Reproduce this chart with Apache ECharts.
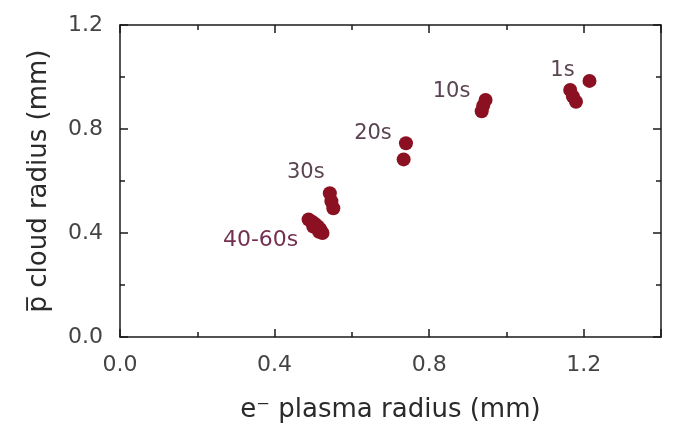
<!DOCTYPE html>
<html>
<head>
<meta charset="utf-8">
<script src="https://cdn.jsdelivr.net/npm/echarts@6/dist/echarts.min.js"></script>
<style>
  html, body { margin: 0; padding: 0; background: #fff; }
  #chart { width: 677px; height: 439px; }
</style>
</head>
<body>
<div id="chart"></div>
<script>
// Antiproton cloud radius vs electron plasma radius, grouped by cooling time
const groupNames = ['1s', '10s', '20s', '30s', '40-60s'];

const plasmaRadius1s = [1.215, 1.165, 1.172, 1.180];
const cloudRadius1s  = [0.985, 0.950, 0.925, 0.905];

const plasmaRadius10s = [0.946, 0.940, 0.936];
const cloudRadius10s  = [0.912, 0.890, 0.868];

const plasmaRadius20s = [0.740, 0.734];
const cloudRadius20s  = [0.745, 0.683];

const plasmaRadius30s = [0.543, 0.547, 0.552];
const cloudRadius30s  = [0.553, 0.522, 0.495];

const plasmaRadius40s = [0.488, 0.497, 0.505, 0.512, 0.518, 0.524, 0.500, 0.515];
const cloudRadius40s  = [0.452, 0.443, 0.435, 0.425, 0.415, 0.400, 0.425, 0.405];

const xTicks = [0.0, 0.4, 0.8, 1.2];
const yTicks = [0.0, 0.4, 0.8, 1.2];

const groups = [
  [plasmaRadius1s, cloudRadius1s],
  [plasmaRadius10s, cloudRadius10s],
  [plasmaRadius20s, cloudRadius20s],
  [plasmaRadius30s, cloudRadius30s],
  [plasmaRadius40s, cloudRadius40s]
];

// label placement relative to the first point of each group (pixels)
const labelOffsets = [[-27, -10], [-34, -8], [-33, -10], [-24, -21], [-48, 21]];
const labelColors = ['#5a4452', '#5a4452', '#5a4452', '#5a4452', '#743050'];

const FONT = 'DejaVu Sans';
const DOT = '#8b1022';

const series = groups.map((g, gi) => ({
  type: 'scatter',
  name: groupNames[gi],
  xAxisIndex: 0,
  yAxisIndex: 0,
  symbol: 'circle',
  symbolSize: 14,
  itemStyle: { color: DOT, opacity: 1 },
  emphasis: { disabled: true },
  z: 3,
  data: g[0].map((x, i) => {
    const item = { value: [x, g[1][i]] };
    if (i === 0) {
      item.label = {
        show: true,
        formatter: groupNames[gi],
        position: 'inside',
        offset: labelOffsets[gi],
        color: labelColors[gi],
        fontFamily: FONT,
        fontSize: gi === 4 ? 22 : 21
      };
    }
    return item;
  })
}));

const tickLabelStyle = {
  fontFamily: FONT,
  fontSize: 22,
  color: '#444444'
};

const chart = echarts.init(document.getElementById('chart'), null, { renderer: 'canvas' });

chart.setOption({
  animation: false,
  backgroundColor: '#ffffff',
  grid: { left: 120, right: 16, top: 25, bottom: 102, containLabel: false },
  xAxis: [
    {
      type: 'value',
      min: 0, max: 1.4, interval: 0.4,
      position: 'bottom',
      name: 'e\u207B plasma radius (mm)',
      nameLocation: 'middle',
      nameGap: 60,
      nameTextStyle: { fontFamily: FONT, fontSize: 26, color: '#2a2a2a' },
      axisLine: { show: true, onZero: false, lineStyle: { color: '#1a1a1a', width: 1.5 } },
      axisTick: { show: true, inside: true, length: 8, lineStyle: { color: '#1a1a1a', width: 1.5 } },
      minorTick: { show: true, splitNumber: 2, length: 5, lineStyle: { color: '#1a1a1a', width: 1.5 } },
      splitLine: { show: false },
      axisLabel: {
        ...tickLabelStyle,
        margin: 17,
        showMaxLabel: false,
        formatter: v => xTicks.some(t => Math.abs(t - v) < 1e-9) ? v.toFixed(1) : ''
      }
    },
    {
      type: 'value',
      min: 0, max: 1.4, interval: 0.4,
      position: 'top',
      axisLine: { show: true, onZero: false, lineStyle: { color: '#1a1a1a', width: 1.5 } },
      axisTick: { show: true, inside: true, length: 8, lineStyle: { color: '#1a1a1a', width: 1.5 } },
      minorTick: { show: true, splitNumber: 2, length: 5, lineStyle: { color: '#1a1a1a', width: 1.5 } },
      splitLine: { show: false },
      axisLabel: { show: false }
    }
  ],
  yAxis: [
    {
      type: 'value',
      min: 0, max: 1.2, interval: 0.4,
      position: 'left',
      name: 'p\u0305 cloud radius (mm)',
      nameLocation: 'middle',
      nameGap: 68,
      nameTextStyle: { fontFamily: FONT, fontSize: 26, color: '#2a2a2a' },
      axisLine: { show: true, onZero: false, lineStyle: { color: '#1a1a1a', width: 1.5 } },
      axisTick: { show: true, inside: true, length: 8, lineStyle: { color: '#1a1a1a', width: 1.5 } },
      minorTick: { show: true, splitNumber: 2, length: 5, lineStyle: { color: '#1a1a1a', width: 1.5 } },
      splitLine: { show: false },
      axisLabel: {
        ...tickLabelStyle,
        margin: 17,
        formatter: v => yTicks.some(t => Math.abs(t - v) < 1e-9) ? v.toFixed(1) : ''
      }
    },
    {
      type: 'value',
      min: 0, max: 1.2, interval: 0.4,
      position: 'right',
      axisLine: { show: true, onZero: false, lineStyle: { color: '#1a1a1a', width: 1.5 } },
      axisTick: { show: true, inside: true, length: 8, lineStyle: { color: '#1a1a1a', width: 1.5 } },
      minorTick: { show: true, splitNumber: 2, length: 5, lineStyle: { color: '#1a1a1a', width: 1.5 } },
      splitLine: { show: false },
      axisLabel: { show: false }
    }
  ],
  series: series
});
</script>
</body>
</html>
